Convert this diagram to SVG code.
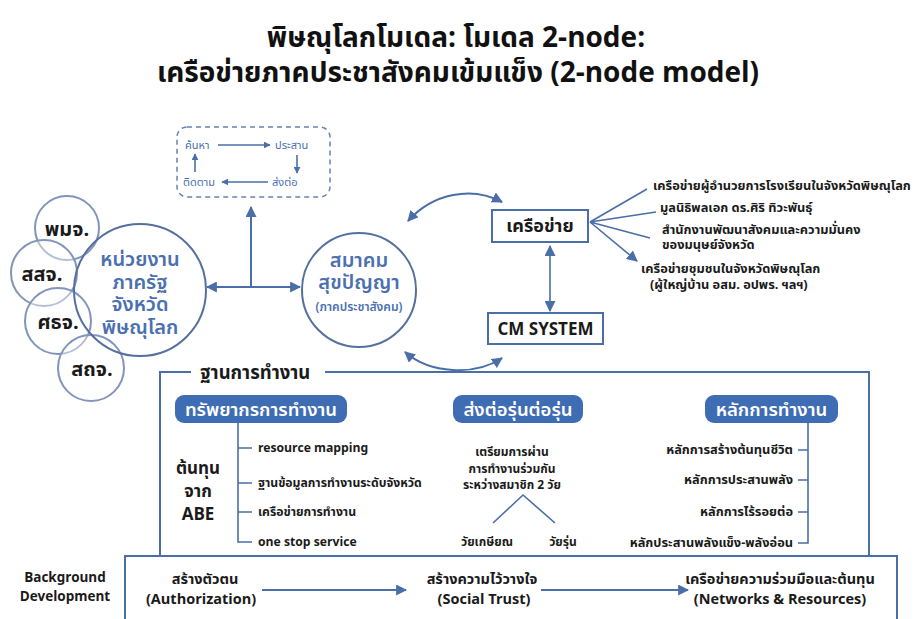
<svg xmlns="http://www.w3.org/2000/svg" width="916" height="619" viewBox="0 0 916 619">
<style>
text{font-family:"Noto Sans Thai","Noto Sans","Liberation Sans",sans-serif;}
.title{font-size:28px;font-weight:700;fill:#111;text-anchor:middle;}
.blk{fill:#1a1a1a;font-weight:700;}
.blue{fill:#4a70b0;}
.ln{stroke:#4a6ea8;stroke-width:2;fill:none;}
.thin{stroke:#4a6ea8;stroke-width:1.6;fill:none;}
.small{stroke:#8394bb;stroke-width:2;}
.pill{fill:#3f6db4;}
.pt{fill:#fff;font-size:18.5px;font-weight:600;text-anchor:middle;}
.box{fill:#fff;stroke:#4a6ea8;stroke-width:2;}
</style>
<defs>
<marker id="ah" viewBox="0 0 10 10" refX="9" refY="5" markerWidth="11" markerHeight="11" markerUnits="userSpaceOnUse" orient="auto-start-reverse">
<path d="M0,0 L10,5 L0,10 z" fill="#4a6ea8"/>
</marker>
<marker id="as" viewBox="0 0 10 10" refX="9" refY="5" markerWidth="7" markerHeight="7" markerUnits="userSpaceOnUse" orient="auto-start-reverse">
<path d="M0,0 L10,5 L0,10 z" fill="#4a6ea8"/>
</marker>
</defs>
<rect width="916" height="619" fill="#fff"/>

<g id="title">
<text class="title" x="456" y="47">พิษณุโลกโมเดล: โมเดล 2-node:</text>
<text class="title" x="458" y="82">เครือข่ายภาคประชาสังคมเข้มแข็ง (2-node model)</text>
</g>

<g id="cycle-box">
<rect x="177" y="127" width="153" height="70" rx="10" fill="none" stroke="#6a82b3" stroke-width="1.5" stroke-dasharray="5,4"/>
<text class="blue" x="185" y="149" font-size="11">ค้นหา</text>
<text class="blue" x="275" y="149" font-size="11">ประสาน</text>
<text class="blue" x="183" y="186" font-size="11">ติดตาม</text>
<text class="blue" x="272" y="186" font-size="11">ส่งต่อ</text>
</g>

<g id="state-agencies">
<circle cx="67" cy="228" r="32" fill="#fff" fill-opacity="0.4" class="small"/>
<circle cx="44" cy="273" r="33" fill="#fff" fill-opacity="0.4" class="small"/>
<circle cx="58" cy="321" r="33" fill="#fff" fill-opacity="0.4" class="small"/>
<circle cx="91" cy="368" r="33" fill="#fff" fill-opacity="0.4" class="small"/>
<circle cx="140" cy="290" r="66" fill="none" stroke="#55709f" stroke-width="2"/>
<text class="blk" x="67" y="236" font-size="20" text-anchor="middle">พมจ.</text>
<text class="blk" x="42" y="281" font-size="20" text-anchor="middle">สสจ.</text>
<text class="blk" x="58" y="329" font-size="20" text-anchor="middle">ศธจ.</text>
<text class="blk" x="92" y="376" font-size="20" text-anchor="middle">สถจ.</text>
<text class="blue" x="140" y="266" font-size="20" font-weight="600" text-anchor="middle">หน่วยงาน</text>
<text class="blue" x="140" y="288.5" font-size="20" font-weight="600" text-anchor="middle">ภาครัฐ</text>
<text class="blue" x="140" y="311" font-size="20" font-weight="600" text-anchor="middle">จังหวัด</text>
<text class="blue" x="140" y="333.5" font-size="20" font-weight="600" text-anchor="middle">พิษณุโลก</text>
</g>

<g id="association">
<circle cx="359" cy="290" r="57" fill="none" stroke="#55709f" stroke-width="2"/>
<text class="blue" x="359" y="267" font-size="20" font-weight="600" text-anchor="middle">สมาคม</text>
<text class="blue" x="359" y="289" font-size="20" font-weight="600" text-anchor="middle">สุขปัญญา</text>
<text class="blue" x="359" y="311" font-size="12" font-weight="600" text-anchor="middle">(ภาคประชาสังคม)</text>
</g>

<g id="network">
<rect class="box" x="492" y="210" width="96" height="32"/>
<text class="blk" x="540" y="232" font-size="18" text-anchor="middle">เครือข่าย</text>
</g>

<g id="cm-system">
<rect class="box" x="488" y="313" width="115" height="31"/>
<text class="blk" x="545.5" y="335" font-size="17" text-anchor="middle">CM SYSTEM</text>
</g>

<g id="network-list" font-size="12.8">
<text class="blk" x="653" y="190">เครือข่ายผู้อำนวยการโรงเรียนในจังหวัดพิษณุโลก</text>
<text class="blk" x="660" y="212">มูลนิธิพลเอก ดร.ศิริ ทิวะพันธุ์</text>
<text class="blk" x="662" y="234">สำนักงานพัฒนาสังคมและความมั่นคง</text>
<text class="blk" x="662" y="249">ของมนุษย์จังหวัด</text>
<text class="blk" x="641" y="273">เครือข่ายชุมชนในจังหวัดพิษณุโลก</text>
<text class="blk" x="650" y="289">(ผู้ใหญ่บ้าน อสม. อปพร. ฯลฯ)</text>
</g>

<g id="work-base">
<path class="ln" d="M191,372 H160 V556 M325,372 H869 V556"/>
<text class="blk" x="200" y="379" font-size="18.5">ฐานการทำงาน</text>
</g>

<g id="resources">
<rect class="pill" x="175" y="395" width="172" height="28" rx="9"/>
<text class="pt" x="261" y="415.5">ทรัพยากรการทำงาน</text>
<path class="thin" d="M238,423 V542 H252 M238,448 H252 M238,483 H252 M238,512 H252"/>
<text class="blk" x="258" y="452" font-size="12.2">resource mapping</text>
<text class="blk" x="258" y="487" font-size="12.2">ฐานข้อมูลการทำงานระดับจังหวัด</text>
<text class="blk" x="258" y="516" font-size="12.2">เครือข่ายการทำงาน</text>
<text class="blk" x="258" y="546" font-size="12.2">one stop service</text>
<text class="blk" x="198" y="474" font-size="17" text-anchor="middle">ต้นทุน</text>
<text class="blk" x="198" y="497" font-size="17" text-anchor="middle">จาก</text>
<text class="blk" x="198" y="520" font-size="17" text-anchor="middle">ABE</text>
</g>

<g id="generations">
<rect class="pill" x="453" y="395" width="130" height="28" rx="9"/>
<text class="pt" x="518" y="415.5">ส่งต่อรุ่นต่อรุ่น</text>
<text class="blk" x="512" y="456" font-size="12" text-anchor="middle">เตรียมการผ่าน</text>
<text class="blk" x="512" y="473" font-size="12" text-anchor="middle">การทำงานร่วมกัน</text>
<text class="blk" x="512" y="489" font-size="12" text-anchor="middle">ระหว่างสมาชิก 2 วัย</text>
<path class="thin" d="M493,523 L523,495 L555,523"/>
<text class="blk" x="487" y="546" font-size="12" text-anchor="middle">วัยเกษียณ</text>
<text class="blk" x="563" y="546" font-size="12" text-anchor="middle">วัยรุ่น</text>
</g>

<g id="principles">
<rect class="pill" x="705" y="395" width="133" height="28" rx="9"/>
<text class="pt" x="771.5" y="415.5">หลักการทำงาน</text>
<path class="thin" d="M808,423 V543 H798 M808,450 H798 M808,480 H798 M808,512 H798"/>
<text class="blk" x="793" y="454" font-size="12.8" text-anchor="end">หลักการสร้างต้นทุนชีวิต</text>
<text class="blk" x="793" y="484" font-size="12.8" text-anchor="end">หลักการประสานพลัง</text>
<text class="blk" x="793" y="516" font-size="12.8" text-anchor="end">หลักการไร้รอยต่อ</text>
<text class="blk" x="793" y="547" font-size="12.8" text-anchor="end">หลักประสานพลังแข็ง-พลังอ่อน</text>
</g>

<g id="background">
<path class="ln" d="M125,625 V556 H897 V625"/>
<text class="blk" x="65" y="582" font-size="13.5" text-anchor="middle" font-weight="600">Background</text>
<text class="blk" x="65" y="601" font-size="13.5" text-anchor="middle" font-weight="600">Development</text>
<text class="blk" x="205" y="584" font-size="14.5" text-anchor="middle" font-weight="500">สร้างตัวตน</text>
<text class="blk" x="201" y="604" font-size="14.5" text-anchor="middle" font-weight="500">(Authorization)</text>
<text class="blk" x="482" y="584" font-size="14.5" text-anchor="middle" font-weight="500">สร้างความไว้วางใจ</text>
<text class="blk" x="484" y="604" font-size="14.5" text-anchor="middle" font-weight="500">(Social Trust)</text>
<text class="blk" x="780" y="584" font-size="14.5" text-anchor="middle" font-weight="500">เครือข่ายความร่วมมือและต้นทุน</text>
<text class="blk" x="780" y="604" font-size="14.5" text-anchor="middle" font-weight="500">(Networks &amp; Resources)</text>
</g>

<g id="connectors">
<path class="thin" d="M218,145 H270" marker-end="url(#as)"/>
<path class="thin" d="M297,155 V173" marker-end="url(#as)"/>
<path class="thin" d="M268,182 H222" marker-end="url(#as)"/>
<path class="thin" d="M195,172 V154" marker-end="url(#as)"/>
<path class="ln" d="M207,287 H300" marker-start="url(#ah)" marker-end="url(#ah)"/>
<path class="ln" d="M251,287 V207" marker-end="url(#ah)"/>
<path class="ln" d="M408,221 C433,193 472,186 502,202" marker-start="url(#ah)" marker-end="url(#ah)"/>
<path class="ln" d="M405,352 C430,374 475,376 502,358" marker-start="url(#ah)" marker-end="url(#ah)"/>
<path class="thin" d="M550,246 V311" marker-start="url(#ah)" marker-end="url(#ah)"/>
<path class="thin" d="M590,222 L647,189 M590,222 L656,212 M590,222 L650,238 M590,222 L637,261" marker-end="url(#ah)"/>
<path class="ln" d="M262,590 H406" marker-end="url(#ah)"/>
<path class="ln" d="M541,590 H688" marker-end="url(#ah)"/>
</g>
</svg>
